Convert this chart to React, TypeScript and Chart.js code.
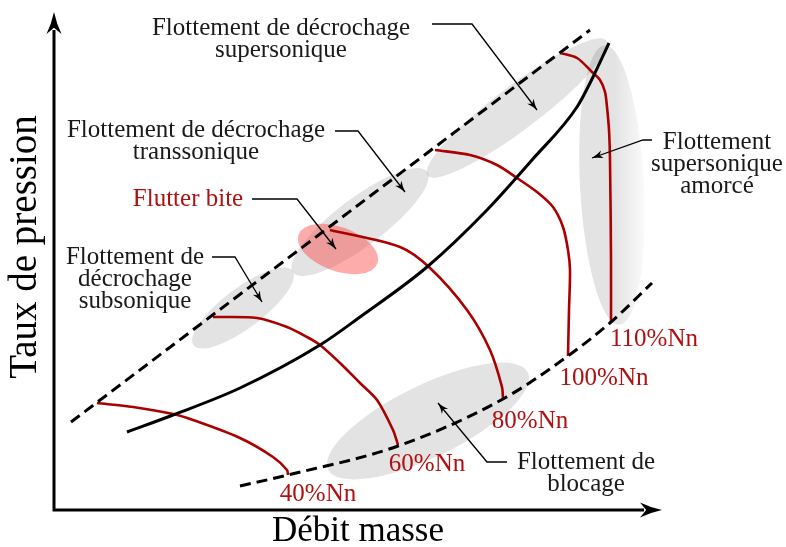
import React, { useEffect, useRef } from 'react';
import { Chart, registerables } from 'chart.js';
Chart.register(...registerables);

// Coordinates: x = mass flow (arbitrary units), y = pressure ratio (arbitrary units)
const surgeX = [17, 536];
const surgeY = [88, 480];
const chokeX = [186, 234, 344, 449, 514, 557, 598];
const chokeY = [24, 35, 64, 111, 154, 188, 227];
const workX = [73, 119, 186, 266, 306, 373, 433, 478, 523, 539, 555];
const workY = [78, 95, 122, 165, 193, 243, 300, 350, 403, 433, 467];
const n40X = [43, 79, 119, 139, 186, 219, 233, 234];
const n40Y = [107, 103, 96, 90, 72, 53, 40, 35];
const n60X = [159, 203, 233, 253, 266, 286, 306, 323, 339, 344];
const n60Y = [193, 192, 183, 173, 165, 147, 127, 110, 80, 65];
const n80X = [276, 346, 376, 413, 436, 448, 449];
const n80Y = [280, 263, 242, 200, 160, 123, 111];
const n100X = [381, 416, 443, 463, 483, 499, 509, 514, 516, 515, 514];
const n100Y = [360, 355, 345, 332, 318, 303, 283, 260, 240, 200, 154];
const n110X = [506, 523, 538, 546, 551, 553, 555, 556, 557, 557];
const n110Y = [457, 452, 438, 430, 418, 403, 380, 350, 250, 188];

const speedLabels = ['40%Nn', '60%Nn', '80%Nn', '100%Nn', '110%Nn'];
const speedLabelX = [264, 373, 476, 550, 600];
const speedLabelY = [16, 46, 89, 132, 171];

// Regions (ellipses): centre x, centre y, semi-axis a, semi-axis b, angle (deg)
const regionCX = [463, 306, 189, 374];
const regionCY = [402, 288, 202, 89];
const regionA = [112, 84, 62, 111];
const regionB = [22, 24, 20, 36];
const regionAngle = [-37, -37, -37, -26];
const flutterRegion = [284, 261, 42, 22, 20];
const primedRegion = [558, 325, 32, 140, -3];

// Annotations
const noteLines = [
  ['Flottement de décrochage', 'supersonique'],
  ['Flottement de décrochage', 'transsonique'],
  ['Flutter bite'],
  ['Flottement de', 'décrochage', 'subsonique'],
  ['Flottement', 'supersonique', 'amorcé'],
  ['Flottement de', 'blocage'],
];
const noteX = [227, 142, 134, 81, 663, 532];
const noteY = [482, 380, 311, 253, 368, 48];
const noteRed = [false, false, true, false, false, false];
const leaderX = [
  [378, 418, 483],
  [281, 304, 351],
  [198, 243, 282],
  [158, 181, 208],
  [598, 589, 538],
  [453, 433, 384],
];
const leaderY = [
  [486, 486, 400],
  [379, 379, 318],
  [311, 311, 261],
  [253, 253, 208],
  [370, 370, 352],
  [48, 48, 107],
];

const xTitle = 'Débit masse';
const yTitle = 'Taux de pression';

const RED = '#aa0000';
const TEXT_RED = '#b01010';
const FONT = '"Liberation Serif", "Times New Roman", serif';

const zip = (xs: number[], ys: number[]) => xs.map((x, i) => ({ x, y: ys[i] }));

function arrowHead(ctx: CanvasRenderingContext2D, tx: number, ty: number, ang: number, len: number, hw: number) {
  ctx.save();
  ctx.translate(tx, ty);
  ctx.rotate(ang);
  ctx.beginPath();
  ctx.moveTo(0, 0);
  ctx.quadraticCurveTo(-len * 0.55, hw * 0.35, -len, hw);
  ctx.lineTo(-len * 0.72, 0);
  ctx.lineTo(-len, -hw);
  ctx.quadraticCurveTo(-len * 0.55, -hw * 0.35, 0, 0);
  ctx.closePath();
  ctx.fill();
  ctx.restore();
}

const decoPlugin = {
  id: 'deco',
  beforeDatasetsDraw(chart: any) {
    const ctx: CanvasRenderingContext2D = chart.ctx;
    const xs = chart.scales.x;
    const ys = chart.scales.y;
    const px = (v: number) => xs.getPixelForValue(v);
    const py = (v: number) => ys.getPixelForValue(v);
    const sx = (d: number) => Math.abs(px(d) - px(0));
    const sy = (d: number) => Math.abs(py(d) - py(0));
    ctx.save();
    for (let i = 0; i < regionCX.length; i++) {
      ctx.beginPath();
      ctx.ellipse(px(regionCX[i]), py(regionCY[i]), sx(regionA[i]), sy(regionB[i]), (regionAngle[i] * Math.PI) / 180, 0, Math.PI * 2);
      ctx.fillStyle = 'rgba(0,0,0,0.11)';
      ctx.fill();
    }
    {
      const [cx, cy, a, b, ang] = primedRegion;
      const x0 = px(cx) - sx(a);
      const x1 = px(cx) + sx(a);
      const g = ctx.createLinearGradient(x0, 0, x1 + 6, 0);
      g.addColorStop(0, 'rgba(0,0,0,0.11)');
      g.addColorStop(0.5, 'rgba(0,0,0,0.11)');
      g.addColorStop(1, 'rgba(0,0,0,0)');
      ctx.beginPath();
      ctx.ellipse(px(cx), py(cy), sx(a), sy(b), (ang * Math.PI) / 180, 0, Math.PI * 2);
      ctx.fillStyle = g;
      ctx.fill();
    }
    {
      const [cx, cy, a, b, ang] = flutterRegion;
      ctx.beginPath();
      ctx.ellipse(px(cx), py(cy), sx(a), sy(b), (ang * Math.PI) / 180, 0, Math.PI * 2);
      ctx.fillStyle = 'rgba(250,55,55,0.42)';
      ctx.fill();
    }
    ctx.strokeStyle = '#000';
    ctx.fillStyle = '#000';
    ctx.lineWidth = 3;
    ctx.beginPath();
    ctx.moveTo(px(0), py(480));
    ctx.lineTo(px(0), py(0));
    ctx.lineTo(px(590), py(0));
    ctx.stroke();
    arrowHead(ctx, px(0), py(498), -Math.PI / 2, 22, 7.5);
    arrowHead(ctx, px(608), py(0), 0, 22, 7.5);
    ctx.restore();
  },
  afterDatasetsDraw(chart: any) {
    const ctx: CanvasRenderingContext2D = chart.ctx;
    const xs = chart.scales.x;
    const ys = chart.scales.y;
    const px = (v: number) => xs.getPixelForValue(v);
    const py = (v: number) => ys.getPixelForValue(v);
    ctx.save();
    ctx.strokeStyle = '#000';
    ctx.fillStyle = '#000';
    ctx.lineWidth = 1.3;
    for (let i = 0; i < leaderX.length; i++) {
      const lx = leaderX[i].map(px);
      const ly = leaderY[i].map(py);
      ctx.beginPath();
      ctx.moveTo(lx[0], ly[0]);
      for (let k = 1; k < lx.length; k++) ctx.lineTo(lx[k], ly[k]);
      ctx.stroke();
      const n = lx.length - 1;
      const ang = Math.atan2(ly[n] - ly[n - 1], lx[n] - lx[n - 1]);
      arrowHead(ctx, lx[n], ly[n], ang, 11, 4);
    }
    ctx.textAlign = 'center';
    ctx.textBaseline = 'middle';
    ctx.font = `25px ${FONT}`;
    for (let i = 0; i < noteLines.length; i++) {
      ctx.fillStyle = noteRed[i] ? TEXT_RED : '#1a1a1a';
      noteLines[i].forEach((t, k) => {
        ctx.fillText(t, px(noteX[i]), py(noteY[i]) + k * 22);
      });
    }
    ctx.fillStyle = TEXT_RED;
    for (let i = 0; i < speedLabels.length; i++) {
      ctx.fillText(speedLabels[i], px(speedLabelX[i]), py(speedLabelY[i]));
    }
    ctx.fillStyle = '#000';
    ctx.font = `35px ${FONT}`;
    ctx.fillText(xTitle, px(304), py(-22));
    ctx.save();
    ctx.translate(px(-28), py(263));
    ctx.rotate(-Math.PI / 2);
    ctx.font = `39px ${FONT}`;
    ctx.fillText(yTitle, 0, 0);
    ctx.restore();
    ctx.restore();
  },
};

export default function App() {
  const ref = useRef<HTMLCanvasElement | null>(null);
  useEffect(() => {
    if (!ref.current) return;
    const line = (xs: number[], ys: number[], color: string, width: number, dash: number[] = [], mono = false) => ({
      data: zip(xs, ys),
      borderColor: color,
      borderWidth: width,
      borderDash: dash,
      pointRadius: 0,
      showLine: true,
      tension: 0.3,
      cubicInterpolationMode: mono ? 'monotone' : 'default',
      fill: false,
      borderCapStyle: 'butt' as const,
    });
    const chart = new Chart(ref.current, {
      type: 'scatter',
      data: {
        datasets: [
          line(surgeX, surgeY, '#000', 3, [11, 6]),
          line(chokeX, chokeY, '#000', 3, [11, 6], true),
          line(workX, workY, '#000', 3, [], true),
          line(n40X, n40Y, RED, 2.6),
          line(n60X, n60Y, RED, 2.6),
          line(n80X, n80Y, RED, 2.6),
          line(n100X, n100Y, RED, 2.6),
          line(n110X, n110Y, RED, 2.6),
        ] as any,
      },
      options: {
        animation: false,
        responsive: false,
        devicePixelRatio: 1,
        layout: { padding: 0 },
        events: [],
        scales: {
          x: { type: 'linear', min: -54, max: 732, display: false },
          y: { type: 'linear', min: -37, max: 510, display: false },
        },
        plugins: { legend: { display: false }, tooltip: { enabled: false } },
      },
      plugins: [decoPlugin],
    });
    return () => chart.destroy();
  }, []);
  return (
    <div style={{ position: 'absolute', left: 0, top: 0, width: 786, height: 547, background: '#fff' }}>
      <canvas ref={ref} width={786} height={547} style={{ width: 786, height: 547 }} />
    </div>
  );
}
